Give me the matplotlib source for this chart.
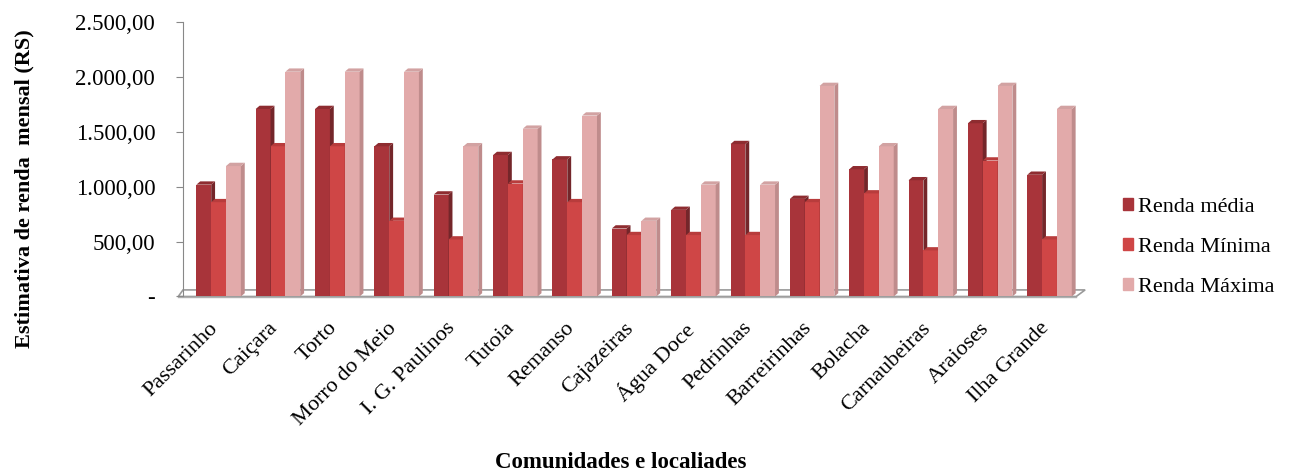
import matplotlib.pyplot as plt
from matplotlib.ticker import FuncFormatter
import numpy as np

# Data
comunidades = ['Passarinho', 'Caiçara', 'Torto', 'Morro do Meio', 'I. G. Paulinos',
               'Tutoia', 'Remanso', 'Cajazeiras', 'Água Doce', 'Pedrinhas',
               'Barreirinhas', 'Bolacha', 'Carnaubeiras', 'Araioses', 'Ilha Grande']
renda_media = [1020, 1710, 1710, 1370, 930, 1290, 1250, 620, 790, 1390, 890, 1160, 1060, 1580, 1110]
renda_minima = [860, 1370, 1370, 690, 520, 1030, 860, 560, 560, 560, 860, 940, 420, 1240, 520]
renda_maxima = [1190, 2050, 2050, 2050, 1370, 1530, 1650, 690, 1020, 1020, 1920, 1370, 1710, 1920, 1710]
series_names = ['Renda média', 'Renda Mínima', 'Renda Máxima']
y_ticks = [0, 500, 1000, 1500, 2000, 2500]

colors = ['#a8343a', '#cf4646', '#e2aaaa']
side_colors = ['#74262a', '#a03434', '#bf8c8c']
top_colors = ['#8e2c30', '#b83c3c', '#d2a2a2']

plt.rcParams['font.family'] = ['Liberation Serif', 'DejaVu Serif']


def fmt(v, pos):
    if v == 0:
        return '-'
    s = f'{v:,.2f}'
    return s.replace(',', 'X').replace('.', ',').replace('X', '.')


def main():
    fig = plt.figure(figsize=(12.98, 4.71), dpi=100)
    ax = fig.add_axes([0.141, 0.3705, 0.695, 0.582])

    x = np.arange(len(comunidades))
    w = 0.25
    dx, dy = 0.065, 30
    data = [renda_media, renda_minima, renda_maxima]

    # floor (3D base)
    fx0, fx1 = -0.68, 14.45
    ax.fill([fx0, fx1, fx1 + 0.15, fx0 + 0.08], [0, 0, 60, 60],
            facecolor='white', edgecolor='#9a9a9a', lw=1.2, clip_on=False, zorder=1)
    ax.plot([fx0, fx1], [-8, -8], color='#b0b0b0', lw=1, clip_on=False, zorder=1)

    z = 2
    for i in x:
        for k in range(3):
            v = data[k][i]
            left = i + (k - 1) * w - w / 2
            ax.bar(left, v, width=w, align='edge', color=colors[k], zorder=z)
            ax.fill([left + w, left + w + dx, left + w + dx, left + w],
                    [0, dy, v + dy, v], color=side_colors[k], zorder=z, lw=0)
            ax.fill([left, left + w, left + w + dx, left + dx],
                    [v, v, v + dy, v + dy], color=top_colors[k], zorder=z, lw=0)
            z += 1

    ax.set_xlim(-0.6, 14.6)
    ax.set_ylim(0, 2500)
    ax.set_yticks(y_ticks)
    ax.yaxis.set_major_formatter(FuncFormatter(fmt))
    ax.tick_params(axis='y', labelsize=16.5, length=5, color='#888888', pad=15)
    ax.set_xticks(x - 0.17)
    ax.set_xticklabels(comunidades, rotation=45, ha='right', rotation_mode='anchor', fontsize=16)
    ax.tick_params(axis='x', length=0, pad=16)

    for s in ['top', 'right', 'bottom']:
        ax.spines[s].set_visible(False)
    ax.spines['left'].set_color('#888888')

    fig.text(0.019, 0.60, 'Estimativa de renda  mensal (RS)', fontsize=16, fontweight='bold',
             rotation=90, ha='center', va='center')
    fig.text(0.478, 0.019, 'Comunidades e localiades', fontsize=16.5, fontweight='bold',
             ha='center', va='center')

    handles = [plt.Rectangle((0, 0), 1, 1, color=c) for c in colors]
    fig.legend(handles, series_names, loc='center left', bbox_to_anchor=(0.85, 0.475),
               frameon=False, fontsize=16, handlelength=0.45, handleheight=0.45,
               handletextpad=0.2, labelspacing=0.95)

    fig.savefig('out.png', dpi=100)


if __name__ == '__main__':
    main()
